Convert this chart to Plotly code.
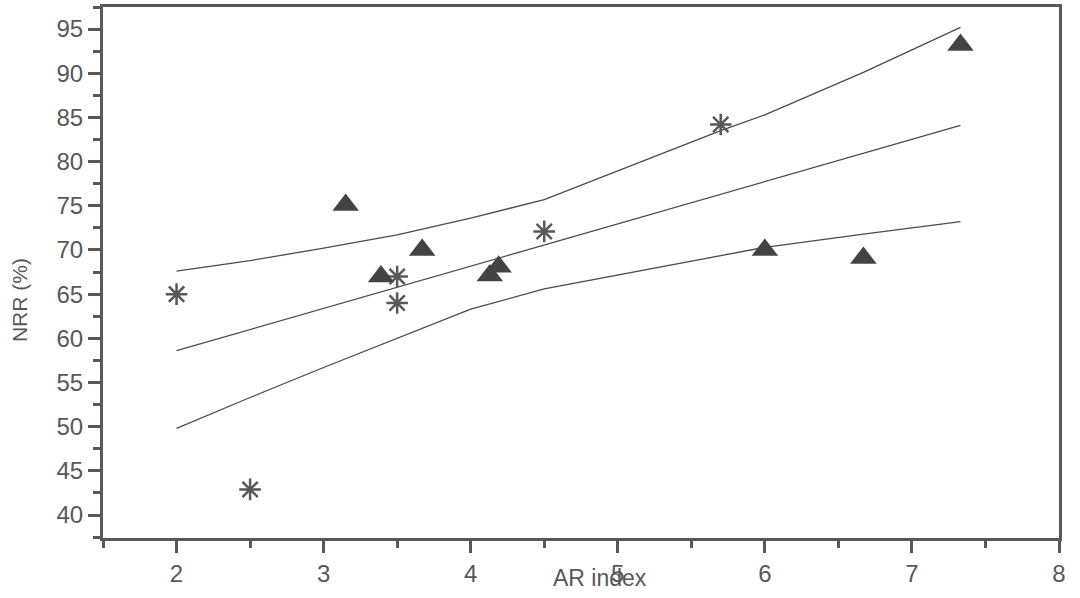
import plotly.graph_objects as go

# Data
tri_x = [3.15, 3.39, 3.67, 4.13, 4.19, 6.0, 6.67, 7.33]
tri_y = [75.1, 67.0, 70.0, 67.1, 68.1, 70.0, 69.1, 93.2]

star_x = [2.0, 2.5, 3.5, 3.5, 4.5, 5.7]
star_y = [65.0, 42.9, 67.0, 64.0, 72.1, 84.2]

fit_x = [2.0, 7.33]
fit_y = [58.6, 84.1]

band_x = [2.0, 2.5, 3.0, 3.5, 4.0, 4.5, 5.7, 6.0, 6.67, 7.33]
upper_y = [67.6, 68.8, 70.2, 71.7, 73.6, 75.7, 83.5, 85.3, 90.1, 95.2]
lower_y = [49.8, 53.3, 56.7, 60.0, 63.3, 65.6, 69.3, 70.3, 71.8, 73.2]

x_ticks = [2, 3, 4, 5, 6, 7, 8]
y_ticks = [40, 45, 50, 55, 60, 65, 70, 75, 80, 85, 90, 95]

axis_col = "#58585a"
line_col = "#4a4a4c"

fig = go.Figure()
for yy in (upper_y, lower_y):
    fig.add_trace(go.Scatter(x=band_x, y=yy, mode="lines",
                             line=dict(color=line_col, width=1.3), showlegend=False))
fig.add_trace(go.Scatter(x=fit_x, y=fit_y, mode="lines",
                         line=dict(color=line_col, width=1.3), showlegend=False))
fig.add_trace(go.Scatter(x=star_x, y=star_y, mode="markers",
                         marker=dict(symbol="asterisk-open", size=18, color=axis_col,
                                     line=dict(color=axis_col, width=2.5)),
                         showlegend=False))
fig.add_trace(go.Scatter(x=tri_x, y=tri_y, mode="markers",
                         marker=dict(symbol="triangle-up", size=23, color="#434345",
                                     line=dict(width=0)),
                         showlegend=False))

fig.update_layout(
    width=1080, height=598,
    margin=dict(l=103, r=21, t=7, b=60, autoexpand=False),
    paper_bgcolor="white", plot_bgcolor="white",
    font=dict(family="Liberation Sans, Arial, sans-serif", color=axis_col),
    annotations=[
        dict(text="AR index", xref="paper", yref="paper", x=0.52, y=-0.0753,
             xanchor="center", yanchor="middle", showarrow=False,
             font=dict(size=23, color=axis_col)),
        dict(text="NRR (%)", xref="paper", yref="paper", x=-0.0879, y=0.448,
             xanchor="center", yanchor="middle", showarrow=False, textangle=-90,
             font=dict(size=21, color=axis_col)),
    ],
)
fig.update_xaxes(
    range=[1.5, 8], tickvals=x_ticks, ticktext=[str(v) for v in x_ticks],
    ticks="outside", ticklen=12, tickwidth=3, tickcolor=axis_col,
    minor=dict(dtick=0.5, tick0=1.5, ticks="outside", ticklen=7, tickwidth=3, tickcolor=axis_col),
    showline=True, linecolor=axis_col, linewidth=3, mirror=True,
    showgrid=False, zeroline=False, automargin=False,
    tickfont=dict(size=24, color=axis_col),
)
fig.update_yaxes(
    range=[37.4, 97.5], tickvals=y_ticks, ticktext=[str(v) for v in y_ticks],
    ticks="outside", ticklen=12, tickwidth=3, tickcolor=axis_col,
    minor=dict(dtick=2.5, tick0=37.5, ticks="outside", ticklen=7, tickwidth=3, tickcolor=axis_col),
    showline=True, linecolor=axis_col, linewidth=3, mirror=True,
    showgrid=False, zeroline=False, automargin=False,
    tickfont=dict(size=24, color=axis_col),
)

fig.write_html("out.html", config={"displayModeBar": False},
               post_script="document.body.style.margin='0';document.body.style.overflow='hidden';")
